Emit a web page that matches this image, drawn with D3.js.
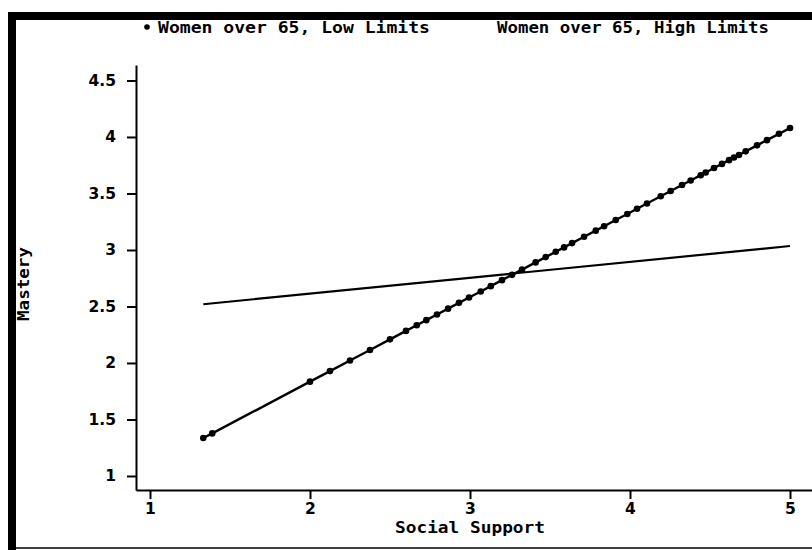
<!DOCTYPE html>
<html>
<head>
<meta charset="utf-8">
<script src="https://cdn.jsdelivr.net/npm/d3@7"></script>
<style>
  html, body { margin: 0; padding: 0; background: #fff; }
  svg { display: block; }
  text { fill: #000; }
</style>
</head>
<body>
<svg id="chart" width="812" height="550"></svg>
<script>
// Social support (x) against predicted mastery (y)
const lowLimitsSupport = [1.333, 1.389, 2.0, 2.125, 2.25, 2.375, 2.5, 2.6, 2.667, 2.727,
  2.794, 2.863, 2.931, 2.994, 3.067, 3.13, 3.2, 3.263, 3.325, 3.41, 3.473, 3.536, 3.588,
  3.638, 3.713, 3.786, 3.838, 3.911, 3.983, 4.044, 4.106, 4.192, 4.254, 4.325, 4.379,
  4.442, 4.473, 4.525, 4.575, 4.619, 4.65, 4.681, 4.723, 4.794, 4.856, 4.931, 5.0];
const lowLimitsMastery = [1.336, 1.377, 1.835, 1.928, 2.022, 2.115, 2.209, 2.284, 2.334, 2.379,
  2.429, 2.481, 2.532, 2.579, 2.633, 2.680, 2.733, 2.780, 2.826, 2.890, 2.937, 2.984, 3.023,
  3.061, 3.117, 3.171, 3.210, 3.265, 3.319, 3.365, 3.411, 3.475, 3.522, 3.575, 3.615,
  3.662, 3.686, 3.725, 3.762, 3.795, 3.818, 3.841, 3.873, 3.926, 3.972, 4.028, 4.080];
const highLimitsSupport = [1.333, 5.0];
const highLimitsMastery = [2.52, 3.035];

const xTicks = [1, 2, 3, 4, 5];
const yTicks = [1, 1.5, 2, 2.5, 3, 3.5, 4, 4.5];
const seriesNames = ["Women over 65, Low Limits", "Women over 65, High Limits"];
const xTitle = "Social Support";
const yTitle = "Mastery";

const svg = d3.select("#chart");
const monoFont = "'DejaVu Sans Mono', monospace";
const tickFont = "'DejaVu Sans', sans-serif";

const x = d3.scaleLinear().domain([0.9125, 5.1375]).range([136, 812]);
const y = d3.scaleLinear().domain([0.876, 4.637]).range([490, 65]);

const lowData = lowLimitsSupport.map((v, i) => ({ x: v, y: lowLimitsMastery[i] }));
const highData = highLimitsSupport.map((v, i) => ({ x: v, y: highLimitsMastery[i] }));

// axes
const yAxis = svg.append("g")
  .attr("transform", `translate(${x.range()[0]},0)`)
  .call(d3.axisLeft(y).tickValues(yTicks).tickFormat(d3.format("~g"))
    .tickSize(9).tickSizeOuter(0).tickPadding(11));
const xAxis = svg.append("g")
  .attr("transform", `translate(0,${y.range()[0]})`)
  .call(d3.axisBottom(x).tickValues(xTicks).tickFormat(d3.format("~g"))
    .tickSize(9).tickSizeOuter(0).tickPadding(4));

[yAxis, xAxis].forEach(g => {
  g.select(".domain").attr("stroke", "#000").attr("stroke-width", 2);
  g.selectAll(".tick line").attr("stroke", "#000").attr("stroke-width", 2);
  g.selectAll(".tick text")
    .attr("font-family", tickFont).attr("font-weight", "bold")
    .attr("font-size", 15.5).attr("fill", "#000");
});

// series lines
const line = d3.line().x(d => x(d.x)).y(d => y(d.y));
svg.append("path").datum(highData)
  .attr("d", line).attr("fill", "none").attr("stroke", "#000").attr("stroke-width", 2.2);
svg.append("path").datum(lowData)
  .attr("d", line).attr("fill", "none").attr("stroke", "#000").attr("stroke-width", 2.4);
svg.append("g").selectAll("circle").data(lowData).join("circle")
  .attr("cx", d => x(d.x)).attr("cy", d => y(d.y)).attr("r", 3.3).attr("fill", "#000");

// axis titles
svg.append("text")
  .attr("x", 470).attr("y", 533)
  .attr("text-anchor", "middle")
  .attr("font-family", monoFont).attr("font-weight", "bold").attr("font-size", 16)
  .attr("textLength", 150).attr("lengthAdjust", "spacingAndGlyphs")
  .text(xTitle);
svg.append("text")
  .attr("transform", "translate(29,284) rotate(-90)")
  .attr("text-anchor", "middle")
  .attr("font-family", monoFont).attr("font-weight", "bold").attr("font-size", 16)
  .attr("textLength", 74).attr("lengthAdjust", "spacingAndGlyphs")
  .text(yTitle);

// legend
svg.append("circle").attr("cx", 147).attr("cy", 27).attr("r", 2.8).attr("fill", "#000");
const legendX = [158, 497];
seriesNames.forEach((name, i) => {
  svg.append("text")
    .attr("x", legendX[i]).attr("y", 33)
    .attr("font-family", monoFont).attr("font-weight", "bold").attr("font-size", 16)
    .attr("textLength", 272).attr("lengthAdjust", "spacingAndGlyphs")
    .text(name);
});

// page frame
svg.append("rect").attr("x", 8).attr("y", 12).attr("width", 804).attr("height", 8).attr("fill", "#000");
svg.append("rect").attr("x", 8).attr("y", 12).attr("width", 8).attr("height", 538).attr("fill", "#000");
svg.append("line").attr("x1", 16).attr("x2", 812).attr("y1", 548).attr("y2", 548)
  .attr("stroke", "#000").attr("stroke-width", 1.5);
</script>
</body>
</html>
